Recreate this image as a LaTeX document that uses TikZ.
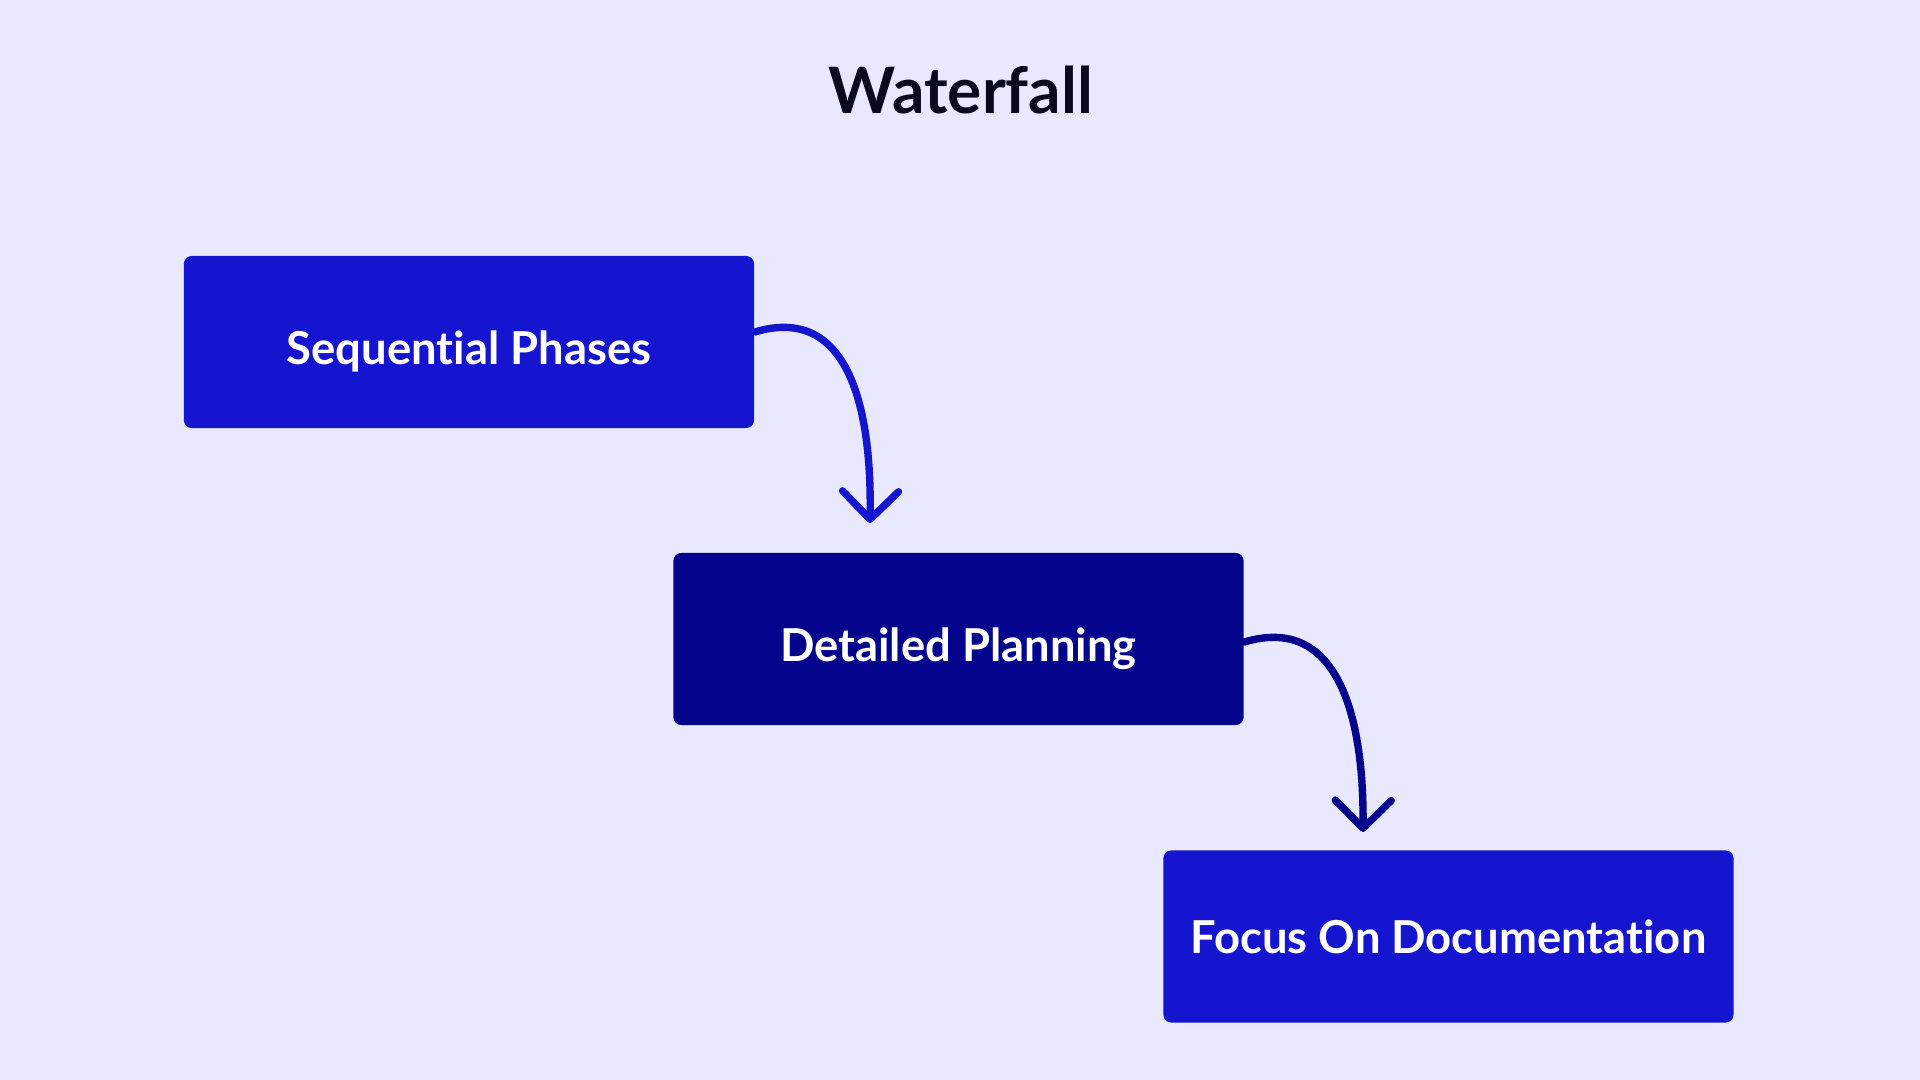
\documentclass[tikz,border=0pt]{standalone}
\usepackage{fontspec}
\setmainfont{Lato}[Ligatures=NoCommon]
\usetikzlibrary{arrows.meta}
\definecolor{bg}{HTML}{E8E9FE}
\definecolor{boxA}{HTML}{1515CF}
\definecolor{boxB}{HTML}{04048C}
\definecolor{titlec}{HTML}{0A0A1E}
\begin{document}
\begin{tikzpicture}[x=0.01cm,y=-0.01cm,
  phase/.style={draw=none, rounded corners=0.08cm, minimum width=5.7cm, minimum height=1.72cm,
    text=white, font=\fontsize{12.9}{15}\selectfont\bfseries, inner sep=0pt,
    text height=0.45cm, text depth=0pt},
  conn/.style={line width=2.1pt, line cap=round, line join=round,
    -{Straight Barb[length=0.28cm, width=0.56cm, line cap=round, line join=round]}}]
\fill[bg] (0,0) rectangle (1920,1080);
\node[font=\fontsize{18.2}{22}\selectfont\bfseries, text=titlec] (title) at (961,90) {Waterfall};
\node[phase, fill=boxA] (b1) at (469,342) {Sequential Phases};
\node[phase, fill=boxB] (b2) at (958.5,639) {Detailed Planning};
\node[phase, fill=boxA, text height=0.34cm] (b3) at (1448.5,936.5) {Focus On Documentation};
\coordinate (t1) at (870,523);
\coordinate (t2) at (1363,832);
\draw[conn, boxA] ([yshift=0.1cm]b1.east) .. controls (845,305) and (872,400) .. (t1);
\draw[conn, boxB] ([yshift=-0.03cm]b2.east) .. controls (1335,615) and (1364,710) .. (t2);
\end{tikzpicture}
\end{document}
